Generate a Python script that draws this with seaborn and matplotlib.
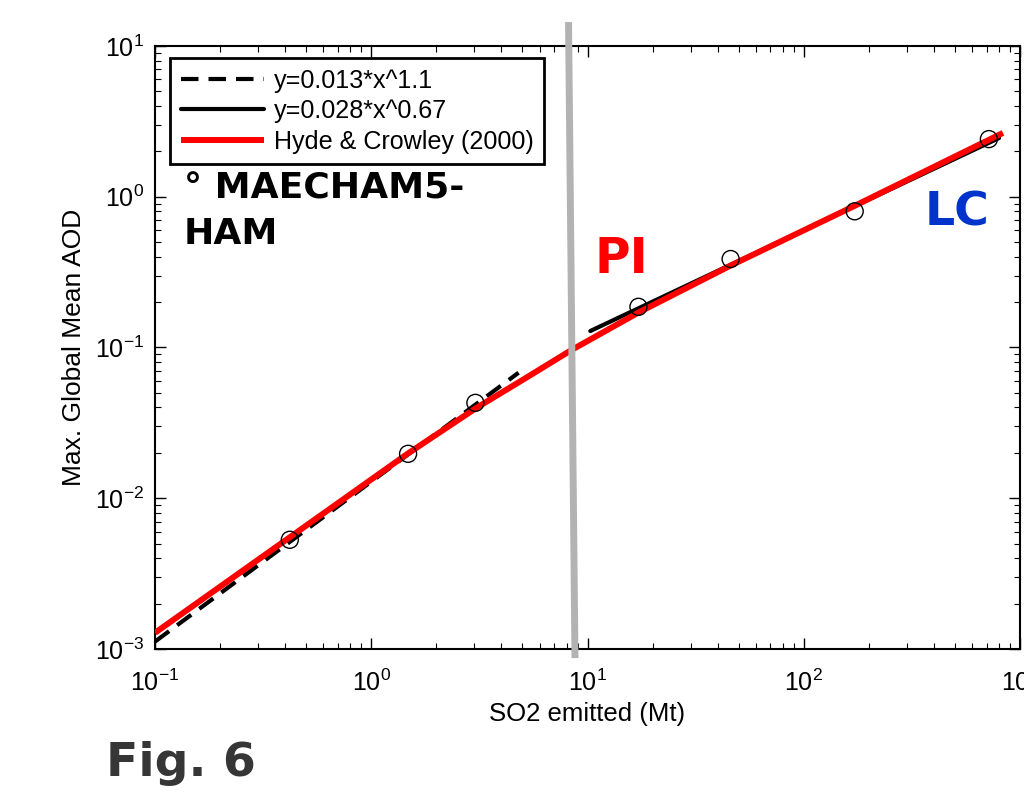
import matplotlib
matplotlib.use("Agg")
import matplotlib.pyplot as plt
import seaborn as sns
import numpy as np
import pandas as pd
from matplotlib.ticker import LogLocator, NullFormatter

# ---------------- data ----------------
model_so2 = [0.42, 1.48, 3.03, 17.2, 45.9, 172, 718]
model_aod = [0.0053, 0.0197, 0.0429, 0.186, 0.386, 0.80, 2.41]

fit_low_x = [0.1, 4.8]
fit_low_y = [0.00112, 0.068]

fit_high_x = [10.3, 800]
fit_high_y = [0.1285, 2.45]

hc_x = [0.1, 1.47, 3.06, 5.0, 8.43, 17.4, 46, 172, 834]
hc_y = [0.00128, 0.0197, 0.0397, 0.0608, 0.0962, 0.172, 0.35, 0.87, 2.65]

divider_x = [8.17, 8.75]
divider_y = [14.4, 0.00087]

legend_labels = ["y=0.013*x^1.1", "y=0.028*x^0.67", "Hyde & Crowley (2000)"]

# ---------------- style ----------------
sns.set_style("ticks")
plt.rcParams["font.family"] = ["Liberation Sans", "DejaVu Sans"]
plt.rcParams["axes.unicode_minus"] = False
plt.rcParams["mathtext.default"] = "regular"
plt.rcParams["text.color"] = "black"
plt.rcParams["axes.labelcolor"] = "black"
plt.rcParams["xtick.color"] = "black"
plt.rcParams["ytick.color"] = "black"

fig = plt.figure(figsize=(10.24, 7.92), dpi=100)
ax = fig.add_axes([0.1514, 0.1806, 0.8447, 0.7614])
ax.set_xscale("log")
ax.set_yscale("log")

sns.lineplot(x=fit_low_x, y=fit_low_y, ax=ax, color="black", lw=3,
             sort=False, estimator=None, zorder=2)
l_dash = ax.lines[-1]
l_dash.set_linestyle((0, (4.2, 2.4)))

sns.lineplot(x=fit_high_x, y=fit_high_y, ax=ax, color="black", lw=3,
             sort=False, estimator=None, zorder=2)
l_solid = ax.lines[-1]

sns.lineplot(x=hc_x, y=hc_y, ax=ax, color="#ff0000", lw=4.3,
             sort=False, estimator=None, zorder=3)
l_red = ax.lines[-1]
l_red.set_solid_capstyle("butt")

sns.scatterplot(x=model_so2, y=model_aod, ax=ax, s=150, marker="o",
                facecolor="none", edgecolor="black", linewidth=1.0, zorder=4)

sns.lineplot(x=divider_x, y=divider_y, ax=ax, color="#b3b3b3", lw=5,
             sort=False, estimator=None, zorder=6)
l_gray = ax.lines[-1]
l_gray.set_clip_on(False)
l_gray.set_solid_capstyle("butt")

ax.set_xlim(0.1, 1000)
ax.set_ylim(1e-3, 10)

ax.xaxis.set_major_locator(LogLocator(base=10, numticks=10))
ax.yaxis.set_major_locator(LogLocator(base=10, numticks=10))
ax.xaxis.set_minor_locator(LogLocator(base=10, subs=np.arange(2, 10), numticks=100))
ax.yaxis.set_minor_locator(LogLocator(base=10, subs=np.arange(2, 10), numticks=100))
ax.xaxis.set_minor_formatter(NullFormatter())
ax.yaxis.set_minor_formatter(NullFormatter())

ax.tick_params(which="both", direction="in", top=True, right=True, colors="black")
ax.tick_params(which="major", length=8, width=1.0, labelsize=18)
ax.tick_params(axis="x", which="major", pad=15)
ax.tick_params(axis="y", which="major", pad=8)
ax.tick_params(which="minor", length=4.5, width=0.8)
for s in ax.spines.values():
    s.set_linewidth(1.5)
    s.set_color("black")

ax.set_xlabel("SO2 emitted (Mt)", fontsize=18.5, labelpad=4)
ax.set_ylabel("Max. Global Mean AOD", fontsize=19, labelpad=6)

leg = ax.legend([l_dash, l_solid, l_red], legend_labels,
                loc="upper left", bbox_to_anchor=(0.0173, 0.98),
                prop={"family": "Liberation Sans", "size": 18.1},
                frameon=True, fancybox=False, framealpha=1, edgecolor="black",
                handlelength=3.3, handletextpad=0.4, borderpad=0.42,
                labelspacing=0.26, borderaxespad=0.0)
leg.get_frame().set_linewidth(2)
for t in leg.get_texts():
    t.set_color("black")

ax.text(0.033, 0.792, "° MAECHAM5-\nHAM", transform=ax.transAxes,
        ha="left", va="top", fontsize=26, fontweight="bold",
        family="DejaVu Sans", color="black", linespacing=1.42)
ax.text(0.508, 0.6235, "PI", transform=ax.transAxes, ha="left", va="baseline",
        fontsize=35, fontweight="bold", family="DejaVu Sans", color="#ff0000")
ax.text(0.890, 0.703, "LC", transform=ax.transAxes, ha="left", va="baseline",
        fontsize=34, fontweight="bold", family="DejaVu Sans", color="#0033cc")

fig.text(0.104, 0.0202, "Fig. 6", ha="left", va="baseline", fontsize=34,
         fontweight="bold", family="DejaVu Sans", color="#363636")

fig.savefig("out.png", dpi=100)
